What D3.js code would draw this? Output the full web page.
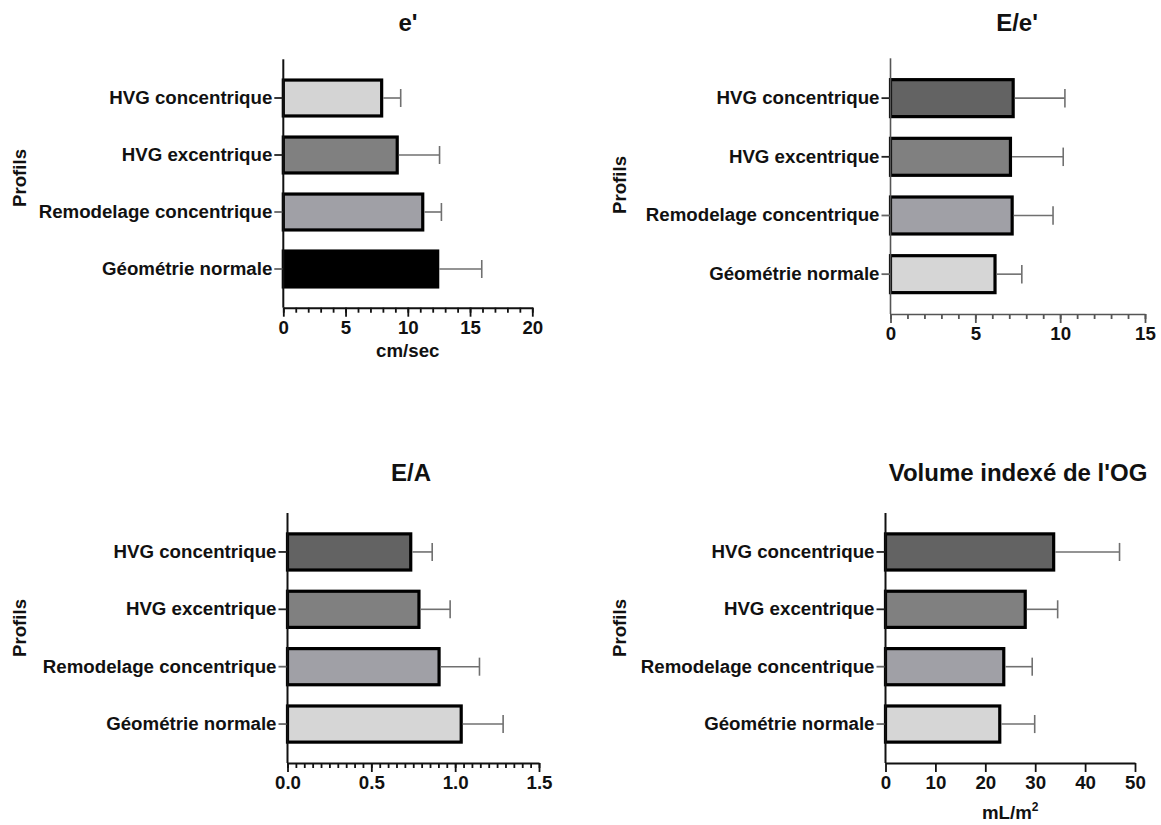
<!DOCTYPE html>
<html>
<head>
<meta charset="utf-8">
<script src="https://cdn.jsdelivr.net/npm/d3@7"></script>
<style>
  html, body { margin: 0; padding: 0; background: #fff; }
  svg { display: block; font-family: "Liberation Sans", Arial, sans-serif; }
</style>
</head>
<body>
<svg id="chart" width="1161" height="825"></svg>
<script>
// ---- data ----
const categories = ["HVG concentrique", "HVG excentrique", "Remodelage concentrique", "Géométrie normale"];

const ePrimeMean = [7.9, 9.15, 11.2, 12.4];
const ePrimeSD   = [1.53, 3.4, 1.5, 3.54];
const ePrimeTicks = [0, 5, 10, 15, 20];

const eeMean = [7.23, 7.07, 7.17, 6.16];
const eeSD   = [3.05, 3.11, 2.41, 1.58];
const eeTicks = [0, 5, 10, 15];

const eaMean = [0.735, 0.784, 0.904, 1.036];
const eaSD   = [0.128, 0.186, 0.241, 0.25];
const eaTicks = [0, 0.5, 1.0, 1.5];

const ogMean = [33.7, 28.0, 23.7, 22.9];
const ogSD   = [13.2, 6.5, 5.7, 7.0];
const ogTicks = [0, 10, 20, 30, 40, 50];

const colorsA = ["#d4d4d4", "#808080", "#a0a0a6", "#000000"];
const colorsB = ["#636363", "#808080", "#a0a0a6", "#d6d6d6"];

// ---- panels ----
const panels = [
  { title: "e'", mean: ePrimeMean, sd: ePrimeSD, ticks: ePrimeTicks, max: 20, minorStep: 1, fmt: d3.format("d"),
    colors: colorsA, x0: 283.3, x1: 532.3, y0: 59.3, y1: 307.7, titleY: 31, titleX: 408, xTitle: "cm/sec", xTitleY: 357,
    profY: 178, axisColor: "#111", axisW: 2 },
  { title: "E/e'", mean: eeMean, sd: eeSD, ticks: eeTicks, max: 15, minorStep: 1, fmt: d3.format("d"),
    colors: colorsB, x0: 890.5, x1: 1145, y0: 58.3, y1: 314, titleY: 31, titleX: 1017, xTitle: null,
    profY: 185, axisColor: "#555", axisW: 1.6 },
  { title: "E/A", mean: eaMean, sd: eaSD, ticks: eaTicks, max: 1.5, minorStep: 0.05, fmt: d3.format(".1f"),
    colors: colorsB, x0: 287.5, x1: 539, y0: 513, y1: 763, titleY: 481, titleX: 411, xTitle: null,
    profY: 628, axisColor: "#111", axisW: 2 },
  { title: "Volume indexé de l'OG", mean: ogMean, sd: ogSD, ticks: ogTicks, max: 50, minorStep: null, fmt: d3.format("d"),
    colors: colorsB, x0: 885.5, x1: 1135, y0: 513, y1: 763, titleY: 481, titleX: 1018, xTitle: "mL/m", xTitleSup: "2", xTitleY: 819,
    profY: 628, axisColor: "#111", axisW: 2 }
];

const svg = d3.select("#chart");

panels.forEach((p, pi) => {
  const g = svg.append("g");
  const x = d3.scaleLinear().domain([0, p.max]).range([p.x0, p.x1]);
  const y = d3.scaleBand().domain(categories).range([p.y0, p.y1]).paddingInner(0.37).paddingOuter(0.364);
  const bw = y.bandwidth();

  // bars
  g.selectAll("rect.bar").data(categories).enter().append("rect")
    .attr("class", "bar")
    .attr("x", x(0))
    .attr("y", d => y(d))
    .attr("width", (d, i) => x(p.mean[i]) - x(0))
    .attr("height", bw)
    .attr("fill", (d, i) => p.colors[i])
    .attr("stroke", "#000")
    .attr("stroke-width", 3.2);

  // error bars
  const eb = g.selectAll("g.err").data(categories).enter().append("g").attr("class", "err");
  eb.append("line")
    .attr("x1", (d, i) => x(p.mean[i]) + 1.6)
    .attr("x2", (d, i) => x(p.mean[i] + p.sd[i]))
    .attr("y1", d => y(d) + bw / 2)
    .attr("y2", d => y(d) + bw / 2)
    .attr("stroke", "#707070").attr("stroke-width", 1.6);
  eb.append("line")
    .attr("x1", (d, i) => x(p.mean[i] + p.sd[i]))
    .attr("x2", (d, i) => x(p.mean[i] + p.sd[i]))
    .attr("y1", d => y(d) + bw / 2 - bw * 0.25)
    .attr("y2", d => y(d) + bw / 2 + bw * 0.25)
    .attr("stroke", "#707070").attr("stroke-width", 1.6);

  // y axis (category)
  const yAxis = g.append("g").attr("transform", `translate(${p.x0},0)`)
    .call(d3.axisLeft(y).tickSize(9).tickPadding(2).tickSizeOuter(0));
  yAxis.select(".domain").remove();
  yAxis.append("line").attr("x1", 0).attr("x2", 0).attr("y1", p.y0).attr("y2", p.y1)
    .attr("stroke", p.axisColor).attr("stroke-width", p.axisW);
  yAxis.selectAll(".tick line").attr("stroke", (d, i) => i < 2 ? "#222" : "#666").attr("stroke-width", 1.8);
  yAxis.selectAll(".tick text")
    .attr("font-size", 18.7).attr("font-weight", "bold").attr("fill", "#111")
    .attr("font-family", "Liberation Sans, Arial, sans-serif");

  // x axis minor ticks
  if (p.minorStep) {
    const minor = d3.range(0, p.max + p.minorStep / 2, p.minorStep);
    const mAxis = g.append("g").attr("transform", `translate(0,${p.y1})`)
      .call(d3.axisBottom(x).tickValues(minor).tickSize(5).tickFormat(""));
    mAxis.select(".domain").remove();
    mAxis.selectAll(".tick line").attr("stroke", p.axisColor).attr("stroke-width", 1.8);
  }
  // x axis major
  const xAxis = g.append("g").attr("transform", `translate(0,${p.y1})`)
    .call(d3.axisBottom(x).tickValues(p.ticks).tickFormat(p.fmt).tickSize(9).tickPadding(4).tickSizeOuter(0));
  xAxis.select(".domain").attr("stroke", p.axisColor).attr("stroke-width", p.axisW);
  xAxis.selectAll(".tick line").attr("stroke", p.axisColor).attr("stroke-width", 1.8);
  xAxis.selectAll(".tick text")
    .attr("font-size", 18.7).attr("font-weight", "bold").attr("fill", "#111")
    .attr("font-family", "Liberation Sans, Arial, sans-serif");

  // title
  g.append("text").attr("x", p.titleX).attr("y", p.titleY)
    .attr("text-anchor", "middle").attr("font-size", 24).attr("font-weight", "bold").attr("fill", "#111")
    .text(p.title);

  // x title
  if (p.xTitle) {
    const t = g.append("text").attr("x", (p.x0 + p.x1) / 2).attr("y", p.xTitleY)
      .attr("text-anchor", "middle").attr("font-size", 18.7).attr("font-weight", "bold").attr("fill", "#111");
    t.append("tspan").text(p.xTitle);
    if (p.xTitleSup) t.append("tspan").attr("font-size", 12).attr("dy", -8).text(p.xTitleSup);
  }

  // y title
  const px = pi % 2 === 0 ? 20 : 620;
  g.append("text").attr("transform", `translate(${px + 6},${p.profY}) rotate(-90)`)
    .attr("text-anchor", "middle").attr("font-size", 18.7).attr("font-weight", "bold").attr("fill", "#111")
    .text("Profils");
});
</script>
</body>
</html>
